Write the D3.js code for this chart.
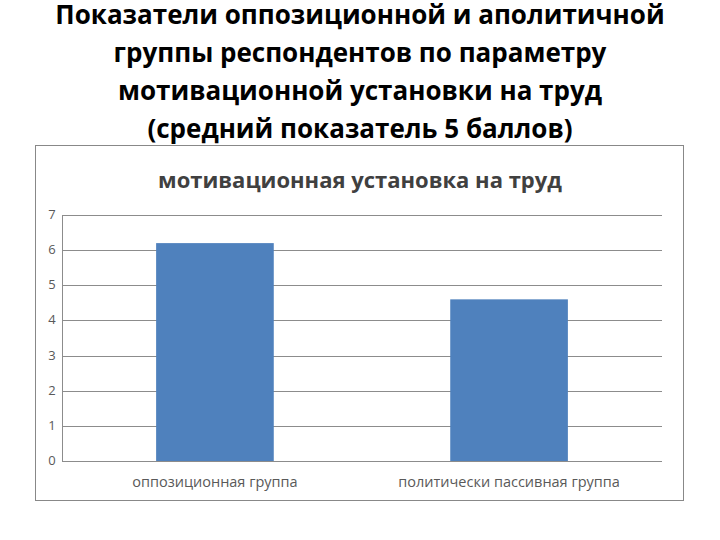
<!DOCTYPE html>
<html>
<head>
<meta charset="utf-8">
<script src="https://d3js.org/d3.v7.min.js"></script>
<style>
  body { margin: 0; background: #fff; }
</style>
</head>
<body>
<script>
  // chart data
  let titleLines = ["Показатели оппозиционной и аполитичной", "группы респондентов по параметру",
                    "мотивационной установки на труд", "(средний показатель 5 баллов)"];
  let categories = ["оппозиционная группа", "политически пассивная группа"];
  let values = [6.2, 4.6];
  let ticks = [0, 1, 2, 3, 4, 5, 6, 7];

  let svg = d3.select("body").append("svg")
      .attr("width", 720)
      .attr("height", 540);

  svg.selectAll("text.title")
    .data(titleLines)
    .enter()
    .append("text")
    .attr("class", "title")
    .attr("x", 360)
    .attr("y", (d, i) => 24 + i * 38)
    .attr("text-anchor", "middle")
    .attr("font-family", "Open Sans, sans-serif")
    .attr("font-weight", "bold")
    .attr("font-size", "26px")
    .attr("fill", "#000")
    .text(d => d);

  // chart frame
  svg.append("rect")
    .attr("x", 35.5).attr("y", 145.5)
    .attr("width", 648).attr("height", 355)
    .attr("fill", "#fff")
    .attr("stroke", "#888");

  svg.append("text")
    .attr("x", 360).attr("y", 188)
    .attr("text-anchor", "middle")
    .attr("font-family", "Open Sans, sans-serif")
    .attr("font-weight", "bold")
    .attr("font-size", "22px")
    .attr("fill", "#404040")
    .text("мотивационная установка на труд");

  let x = d3.scaleBand().domain(categories).range([62, 662]).paddingInner(0.6).paddingOuter(0.32);
  let y = d3.scaleLinear().domain([0, 7]).range([461, 215]);

  svg.selectAll("line.grid")
    .data(ticks)
    .enter()
    .append("line")
    .attr("x1", 62).attr("x2", 662)
    .attr("y1", d => Math.round(y(d)) + 0.5)
    .attr("y2", d => Math.round(y(d)) + 0.5)
    .attr("stroke", "#8c8c8c");

  svg.append("line")
    .attr("x1", 62.5).attr("x2", 62.5)
    .attr("y1", 215).attr("y2", 461)
    .attr("stroke", "#8c8c8c");

  svg.selectAll("text.tick")
    .data(ticks)
    .enter()
    .append("text")
    .attr("x", 52)
    .attr("y", d => y(d) + 4)
    .attr("text-anchor", "middle")
    .attr("font-family", "Open Sans, sans-serif")
    .attr("font-size", "13px")
    .attr("fill", "#595959")
    .text(d => d);

  svg.selectAll("rect.bar")
    .data(values)
    .enter()
    .append("rect")
    .attr("x", (d, i) => x(categories[i]))
    .attr("y", d => y(d))
    .attr("width", x.bandwidth())
    .attr("height", d => y(0) - y(d))
    .attr("fill", "#4f81bd");

  svg.selectAll("text.cat")
    .data(categories)
    .enter()
    .append("text")
    .attr("x", d => x(d) + x.bandwidth() / 2)
    .attr("y", 487)
    .attr("text-anchor", "middle")
    .attr("font-family", "Open Sans, sans-serif")
    .attr("font-size", "14.5px")
    .attr("fill", "#595959")
    .text(d => d);
</script>
</body>
</html>
